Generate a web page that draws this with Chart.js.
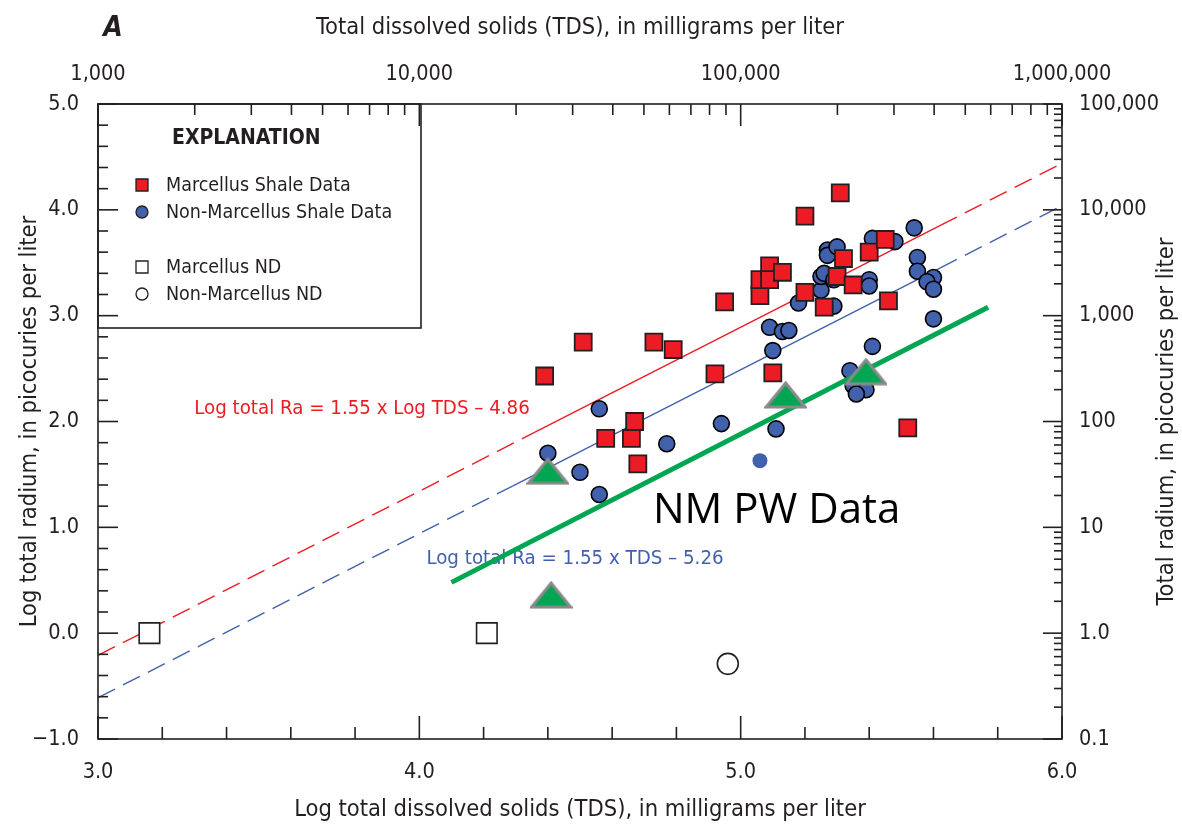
<!DOCTYPE html>
<html>
<head>
<meta charset="utf-8">
<script src="https://cdn.jsdelivr.net/npm/chart.js@4/dist/chart.umd.min.js"></script>
<style>
  body { margin: 0; background: #fff; }
  canvas { display: block; }
</style>
</head>
<body>
<canvas id="chart" width="1182" height="836"></canvas>
<script>
// Log TDS (mg/L) vs log total radium (pCi/L)
const marcellusTds = [4.39, 4.51, 4.58, 4.66, 4.67, 4.68, 4.73, 4.79, 4.92, 4.95, 5.06, 5.06, 5.09, 5.09,
  5.10, 5.13, 5.20, 5.20, 5.26, 5.30, 5.31, 5.32, 5.35, 5.40, 5.45, 5.46, 5.52];
const marcellusRa = [2.43, 2.75, 1.84, 1.84, 2.00, 1.60, 2.75, 2.68, 2.45, 3.13, 3.19, 3.34, 3.47, 3.34,
  2.46, 3.41, 3.94, 3.22, 3.08, 3.37, 4.16, 3.54, 3.29, 3.60, 3.72, 3.14, 1.94];

const nonMarcellusTds = [4.40, 4.50, 4.56, 4.56, 4.77, 4.94, 5.11, 5.09, 5.10, 5.13, 5.15, 5.18, 5.25, 5.25,
  5.26, 5.27, 5.27, 5.30, 5.29, 5.29, 5.40, 5.40, 5.41, 5.41, 5.48, 5.54, 5.55, 5.55, 5.60, 5.58, 5.60, 5.60,
  5.34, 5.35, 5.39, 5.36];
const nonMarcellusRa = [1.70, 1.52, 2.12, 1.31, 1.79, 1.98, 1.93, 2.89, 2.67, 2.85, 2.86, 3.12, 3.24, 3.37,
  3.40, 3.62, 3.57, 3.65, 3.34, 3.09, 3.34, 3.28, 2.71, 3.73, 3.70, 3.83, 3.55, 3.42, 3.36, 3.32, 3.25, 2.97,
  2.48, 2.34, 2.30, 2.26];
// one point plotted without outline
const nonMarcellusPlainTds = [5.06];
const nonMarcellusPlainRa = [1.63];

const marcellusNdTds = [3.16, 4.21];
const marcellusNdRa = [0.0, 0.0];
const nonMarcellusNdTds = [4.96];
const nonMarcellusNdRa = [-0.29];

const nmPwTds = [4.40, 4.41, 5.14, 5.39];
const nmPwRa = [1.53, 0.36, 2.25, 2.47];
const nmPwFitTds = [4.10, 5.77];
const nmPwFitRa = [0.48, 3.08];

// regression lines: dashed extensions, solid over the data range
const redFitTds = [3.0, 4.36, 5.62, 6.0];
const redFitRa = [-0.21, 1.90, 3.85, 4.44];
const blueFitTds = [3.0, 4.29, 5.62, 6.0];
const blueFitRa = [-0.61, 1.39, 3.45, 4.04];

const bottomTicks = [3, 4, 5, 6];
const bottomLabels = ['3.0', '4.0', '5.0', '6.0'];
const topTicks = [3, 4, 5, 6];
const topLabels = ['1,000', '10,000', '100,000', '1,000,000'];
const leftTicks = [-1, 0, 1, 2, 3, 4, 5];
const leftLabels = ['\u22121.0', '0.0', '1.0', '2.0', '3.0', '4.0', '5.0'];
const rightTicks = [-1, 0, 1, 2, 3, 4, 5];
const rightLabels = ['0.1', '1.0', '10', '100', '1,000', '10,000', '100,000'];

const FONT = "'Liberation Sans Narrow', 'DejaVu Sans Condensed', Roboto, sans-serif";
const INK = '#231f20';
const RED = '#ed1c24';
const BLUE = '#4161ac';
const GREEN = '#00a651';

const pts = (xs, ys) => xs.map((x, i) => ({ x: x, y: ys[i] }));

function makeTriangle() {
    const c = document.createElement('canvas');
    c.width = 43;
    c.height = 28;
    const g = c.getContext('2d');
    g.beginPath();
    g.moveTo(21.5, 2);
    g.lineTo(41, 26);
    g.lineTo(2, 26);
    g.closePath();
    g.fillStyle = GREEN;
    g.fill();
    g.lineWidth = 3;
    g.strokeStyle = '#8a8a8a';
    g.stroke();
    return c;
}

function fixedTicks(values) {
    return scale => { scale.ticks = values.map(v => ({ value: v })); };
}

const tickFont = { family: FONT, size: 21.5 };
const titleFont = { family: FONT, size: 23.5 };

// frame, inward tick marks and right-hand title
const axisDecor = {
    id: 'axisDecor',
    afterDraw(chart) {
        const { ctx, chartArea: a, scales } = chart;
        ctx.save();
        ctx.strokeStyle = INK;
        ctx.lineWidth = 1.6;
        ctx.strokeRect(a.left, a.top, a.right - a.left, a.bottom - a.top);
        const line = (x1, y1, x2, y2) => {
            ctx.beginPath();
            ctx.moveTo(x1, y1);
            ctx.lineTo(x2, y2);
            ctx.stroke();
        };
        for (let i = 0; i <= 30; i++) {
            const py = scales.y.getPixelForValue(-1 + i * 0.2);
            line(a.left, py, a.left + (i % 5 === 0 ? 20 : 10), py);
        }
        for (let i = 0; i <= 15; i++) {
            const px = scales.x.getPixelForValue(3 + i * 0.2);
            line(px, a.bottom, px, a.bottom - (i % 5 === 0 ? 23 : 12));
        }
        for (let n = 3; n <= 6; n++) {
            for (let k = 1; k <= (n === 6 ? 1 : 9); k++) {
                const px = scales.x2.getPixelForValue(n + Math.log10(k));
                line(px, a.top, px, a.top + (k === 1 ? 22 : 11));
            }
        }
        for (let n = -1; n <= 5; n++) {
            for (let k = 1; k <= (n === 5 ? 1 : 9); k++) {
                const py = scales.y2.getPixelForValue(n + Math.log10(k));
                line(a.right, py, a.right - (k === 1 ? 19 : 8), py);
            }
        }
        ctx.fillStyle = INK;
        ctx.font = '23.5px ' + FONT;
        ctx.textAlign = 'center';
        ctx.textBaseline = 'middle';
        ctx.translate(1167, (a.top + a.bottom) / 2);
        ctx.rotate(-Math.PI / 2);
        ctx.fillText('Total radium, in picocuries per liter', 0, 0);
        ctx.restore();

        ctx.save();
        ctx.fillStyle = INK;
        ctx.font = 'italic bold 28px ' + FONT;
        ctx.textAlign = 'center';
        ctx.textBaseline = 'middle';
        ctx.fillText('A', 113, 29);
        ctx.restore();
    }
};

// explanation box and annotations
const annotations = {
    id: 'annotations',
    beforeDatasetsDraw(chart) {
        const { ctx, chartArea: a } = chart;
        ctx.save();
        ctx.fillStyle = '#fff';
        ctx.fillRect(a.left, a.top, 323, 224);
        ctx.strokeStyle = INK;
        ctx.lineWidth = 1.6;
        ctx.strokeRect(a.left, a.top, 323, 224);

        ctx.textBaseline = 'middle';
        ctx.textAlign = 'left';
        ctx.fillStyle = INK;
        ctx.font = 'bold 21px ' + FONT;
        ctx.fillText('EXPLANATION', 172, 139);

        ctx.font = '19.5px ' + FONT;
        const rows = [
            ['Marcellus Shale Data', 185, 'sq', RED],
            ['Non-Marcellus Shale Data', 212, 'ci', BLUE],
            ['Marcellus ND', 267, 'sq', '#fff'],
            ['Non-Marcellus ND', 294, 'ci', '#fff']
        ];
        rows.forEach(([label, y, shape, fill]) => {
            ctx.fillStyle = fill;
            ctx.strokeStyle = INK;
            ctx.lineWidth = 1.3;
            ctx.beginPath();
            if (shape === 'sq') ctx.rect(136, y - 6, 12, 12);
            else ctx.arc(142, y, 6, 0, Math.PI * 2);
            ctx.fill();
            ctx.stroke();
            ctx.fillStyle = INK;
            ctx.fillText(label, 166, y + 1);
        });

        ctx.textAlign = 'center';
        ctx.font = '20.3px ' + FONT;
        ctx.fillStyle = RED;
        ctx.fillText('Log total Ra = 1.55 x Log TDS \u2013 4.86', 362, 409);
        ctx.fillStyle = BLUE;
        ctx.fillText('Log total Ra = 1.55 x TDS \u2013 5.26', 575, 559);

        ctx.fillStyle = '#000';
        ctx.font = "42px 'Open Sans', 'Noto Sans', sans-serif";
        ctx.textAlign = 'left';
        ctx.fillText('NM PW Data', 653, 511);
        ctx.restore();
    }
};

new Chart(document.getElementById('chart'), {
    type: 'scatter',
    data: {
        datasets: [
            {
                label: 'NM PW Data',
                data: pts(nmPwTds, nmPwRa),
                pointStyle: makeTriangle(),
                pointRadius: 12,
                order: 0
            },
            {
                label: 'NM PW fit',
                data: pts(nmPwFitTds, nmPwFitRa),
                showLine: true,
                borderColor: GREEN,
                borderWidth: 5,
                pointRadius: 0,
                order: 1
            },
            {
                label: 'Marcellus Shale Data',
                data: pts(marcellusTds, marcellusRa),
                pointStyle: 'rect',
                pointRadius: 12,
                backgroundColor: RED,
                borderColor: INK,
                borderWidth: 1.8,
                order: 2
            },
            {
                label: 'Non-Marcellus Shale Data',
                data: pts(nonMarcellusTds, nonMarcellusRa),
                pointStyle: 'circle',
                pointRadius: 8,
                backgroundColor: BLUE,
                borderColor: '#000',
                borderWidth: 1.6,
                order: 3
            },
            {
                label: 'Non-Marcellus Shale Data (no outline)',
                data: pts(nonMarcellusPlainTds, nonMarcellusPlainRa),
                pointStyle: 'circle',
                pointRadius: 7.5,
                backgroundColor: BLUE,
                borderWidth: 0,
                order: 3
            },
            {
                label: 'Marcellus ND',
                data: pts(marcellusNdTds, marcellusNdRa),
                pointStyle: 'rect',
                pointRadius: 14.5,
                backgroundColor: '#fff',
                borderColor: INK,
                borderWidth: 1.6,
                order: 2
            },
            {
                label: 'Non-Marcellus ND',
                data: pts(nonMarcellusNdTds, nonMarcellusNdRa),
                pointStyle: 'circle',
                pointRadius: 10.5,
                backgroundColor: '#fff',
                borderColor: INK,
                borderWidth: 1.6,
                order: 2
            },
            {
                label: 'Marcellus fit (dashed)',
                data: pts(redFitTds, redFitRa),
                showLine: true,
                borderColor: RED,
                borderWidth: 1.4,
                pointRadius: 0,
                segment: { borderDash: c => (c.p0DataIndex === 1 ? undefined : [19, 9]) },
                order: 5
            },
            {
                label: 'Non-Marcellus fit (dashed)',
                data: pts(blueFitTds, blueFitRa),
                showLine: true,
                borderColor: BLUE,
                borderWidth: 1.4,
                pointRadius: 0,
                segment: { borderDash: c => (c.p0DataIndex === 1 ? undefined : [19, 9]) },
                order: 5
            }
        ]
    },
    options: {
        responsive: false,
        animation: false,
        layout: { padding: 0 },
        plugins: {
            legend: { display: false },
            tooltip: { enabled: false }
        },
        scales: {
            x: {
                type: 'linear',
                position: 'bottom',
                min: 3,
                max: 6,
                afterBuildTicks: fixedTicks(bottomTicks),
                afterFit: s => { s.height = 97; },
                ticks: {
                    callback: (v, i) => bottomLabels[i],
                    font: tickFont,
                    color: INK,
                    padding: 21,
                    maxRotation: 0,
                    autoSkip: false
                },
                grid: { display: false, drawTicks: false },
                border: { display: false },
                title: {
                    display: true,
                    text: 'Log total dissolved solids (TDS), in milligrams per liter',
                    font: titleFont,
                    color: INK,
                    padding: { top: 0, bottom: 12 }
                }
            },
            x2: {
                type: 'linear',
                position: 'top',
                min: 3,
                max: 6,
                afterBuildTicks: fixedTicks(topTicks),
                afterFit: s => { s.height = 104; },
                ticks: {
                    callback: (v, i) => topLabels[i],
                    font: tickFont,
                    color: INK,
                    padding: 17,
                    maxRotation: 0,
                    autoSkip: false
                },
                grid: { display: false, drawTicks: false },
                border: { display: false },
                title: {
                    display: true,
                    text: 'Total dissolved solids (TDS), in milligrams per liter',
                    font: titleFont,
                    color: INK,
                    padding: { top: 14, bottom: 0 }
                }
            },
            y: {
                type: 'linear',
                position: 'left',
                min: -1,
                max: 5,
                afterBuildTicks: fixedTicks(leftTicks),
                afterFit: s => { s.width = 98; },
                ticks: {
                    callback: (v, i) => leftLabels[i],
                    font: tickFont,
                    color: INK,
                    padding: 19,
                    autoSkip: false
                },
                grid: { display: false, drawTicks: false },
                border: { display: false },
                title: {
                    display: true,
                    text: 'Log total radium, in picocuries per liter',
                    font: titleFont,
                    color: INK,
                    padding: { top: 16, bottom: 0 }
                }
            },
            y2: {
                type: 'linear',
                position: 'right',
                min: -1,
                max: 5,
                afterBuildTicks: fixedTicks(rightTicks),
                afterFit: s => { s.width = 120; },
                ticks: {
                    callback: (v, i) => rightLabels[i],
                    font: tickFont,
                    color: INK,
                    padding: 17,
                    autoSkip: false
                },
                grid: { display: false, drawTicks: false },
                border: { display: false }
            }
        }
    },
    plugins: [annotations, axisDecor]
});
</script>
</body>
</html>
